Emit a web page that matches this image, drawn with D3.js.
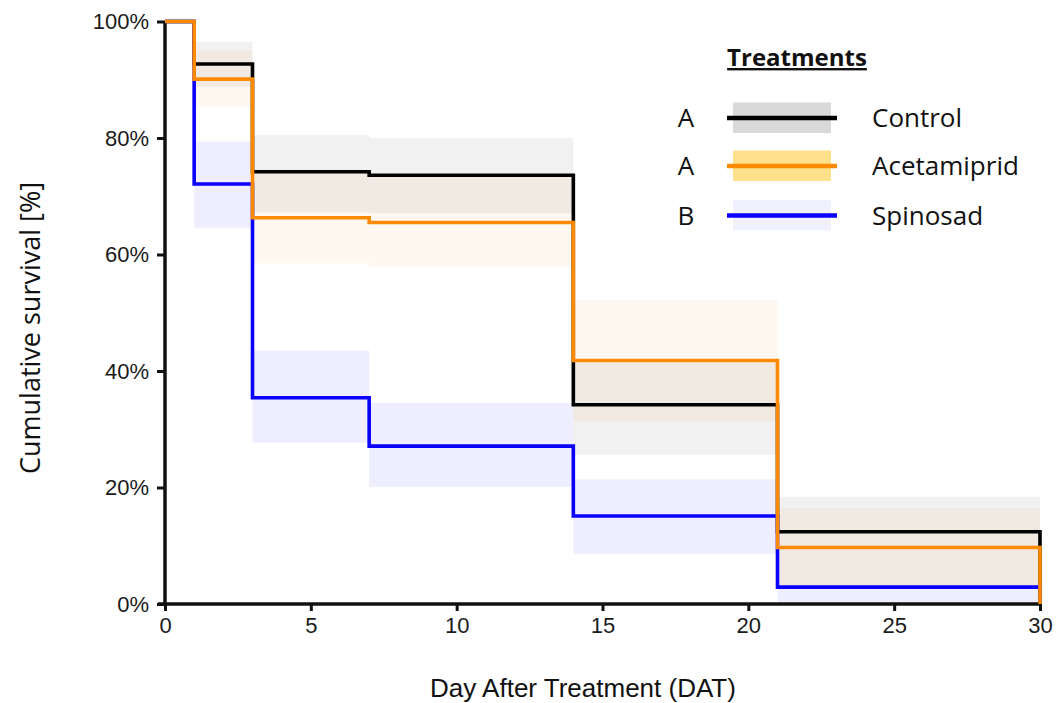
<!DOCTYPE html>
<html>
<head>
<meta charset="utf-8">
<script src="https://cdn.jsdelivr.net/npm/d3@7"></script>
<style>
  html, body { margin: 0; padding: 0; background: #fff; }
  svg { display: block; }
</style>
</head>
<body>
<svg id="chart" width="1057" height="703"></svg>
<script>
// ---------- data ----------
const days = [0, 1, 3, 7, 14, 21, 30];
const controlSurv     = [100, 92.7, 74.2, 73.6, 34.2, 12.4, 0];
const acetamipridSurv = [100, 90.1, 66.3, 65.5, 41.8, 9.7, 0];
const spinosadSurv    = [100, 72.1, 35.4, 27.1, 15.1, 2.9, 0];

// confidence band for intervals [1-3], [3-7], [7-14], [14-21], [21-30]
const bandStarts = [1, 3, 7, 14, 21];
const bandEnds   = [3, 7, 14, 21, 30];
const controlLo     = [88.8, 67.2, 67.1, 25.6, 3.0];
const controlHi     = [96.5, 80.5, 80.0, 41.5, 18.4];
const acetamipridLo = [85.4, 58.5, 57.9, 31.3, 3.0];
const acetamipridHi = [95.1, 74.0, 73.4, 52.2, 16.5];
const spinosadLo    = [64.6, 27.7, 20.1, 8.6, 0];
const spinosadHi    = [79.4, 43.5, 34.5, 21.4, 3.0];

const treatments = ["Control", "Acetamiprid", "Spinosad"];
const groupLetters = ["A", "A", "B"];
const xTicks = [0, 5, 10, 15, 20, 25, 30];
const yTicks = [0, 20, 40, 60, 80, 100];

// ---------- styles ----------
const lineColors = ["#000000", "#ff8a00", "#0a00ff"];
const bandColors = ["#000000", "#ff8000", "#0000ff"];
const bandOpacity = [0.055, 0.055, 0.065];
const swatchColors = ["#d9d9d9", "#ffe18c", "#f0f0ff"];

const series = [
  { name: treatments[0], surv: controlSurv, lo: controlLo, hi: controlHi },
  { name: treatments[1], surv: acetamipridSurv, lo: acetamipridLo, hi: acetamipridHi },
  { name: treatments[2], surv: spinosadSurv, lo: spinosadLo, hi: spinosadHi }
];

const svg = d3.select("#chart");
const x = d3.scaleLinear().domain([0, 30]).range([165, 1040]);
const y = d3.scaleLinear().domain([0, 100]).range([604, 21.5]);

// ---------- bands ----------
series.forEach((s, i) => {
  const rows = bandStarts.map((b, k) => ({ x0: b, x1: bandEnds[k], lo: s.lo[k], hi: s.hi[k] }));
  svg.append("g").selectAll("rect").data(rows).join("rect")
    .attr("x", d => x(d.x0))
    .attr("width", d => x(d.x1) - x(d.x0))
    .attr("y", d => y(d.hi))
    .attr("height", d => y(d.lo) - y(d.hi))
    .attr("fill", bandColors[i])
    .attr("fill-opacity", bandOpacity[i]);
});

// ---------- axes ----------
const xAxis = d3.axisBottom(x).tickValues(xTicks).tickSize(7).tickPadding(6).tickFormat(d3.format("d"));
const yAxis = d3.axisLeft(y).tickValues(yTicks).tickSize(8).tickPadding(8).tickFormat(d => d + "%");

const gx = svg.append("g").attr("transform", "translate(0,604)").call(xAxis);
const gy = svg.append("g").attr("transform", "translate(165,0)").call(yAxis);
[gx, gy].forEach(g => {
  g.select(".domain").attr("stroke", "#111").attr("stroke-width", 3.5);
  g.selectAll(".tick line").attr("stroke", "#111").attr("stroke-width", 3);
  g.selectAll(".tick text")
    .attr("fill", "#1a1a1a")
    .style("font-family", "'Liberation Sans', Arial, sans-serif")
    .style("font-size", "22px");
});
gx.select(".domain").attr("d", "M158,0H1040");
gy.select(".domain").attr("d", "M0,21.5V604");

// ---------- lines (draw black, blue, orange on top) ----------
const line = d3.line().x(d => x(d[0])).y(d => y(d[1])).curve(d3.curveStepAfter);
[0, 2, 1].forEach(i => {
  const pts = days.map((d, k) => [d, series[i].surv[k]]);
  svg.append("path")
    .attr("d", line(pts))
    .attr("fill", "none")
    .attr("stroke", lineColors[i])
    .attr("stroke-width", 3.6)
    .attr("stroke-linejoin", "miter");
});

// ---------- axis titles ----------
svg.append("text")
  .attr("x", 583).attr("y", 697)
  .attr("text-anchor", "middle")
  .style("font-family", "'Liberation Sans', Arial, sans-serif")
  .style("font-size", "26px")
  .attr("fill", "#111")
  .text("Day After Treatment (DAT)");

svg.append("text")
  .attr("transform", "translate(40,328) rotate(-90)")
  .attr("text-anchor", "middle")
  .style("font-family", "'Open Sans', sans-serif")
  .style("font-size", "27px")
  .attr("fill", "#111")
  .text("Cumulative survival [%]");

// ---------- legend ----------
const lg = svg.append("g");
lg.append("text")
  .attr("x", 797).attr("y", 66)
  .attr("text-anchor", "middle")
  .style("font-family", "'Open Sans', sans-serif")
  .style("font-size", "24px")
  .style("font-weight", "bold")
  .style("text-decoration", "underline")
  .attr("fill", "#111")
  .text("Treatments");

const rowY = [118, 166, 215.5];
treatments.forEach((t, i) => {
  const g = lg.append("g").attr("transform", `translate(0,${rowY[i]})`);
  g.append("text")
    .attr("x", 686).attr("y", 9)
    .attr("text-anchor", "middle")
    .style("font-family", "'Open Sans', sans-serif")
    .style("font-size", "26px")
    .attr("fill", "#111")
    .text(groupLetters[i]);
  g.append("rect")
    .attr("x", 733).attr("y", -15.5)
    .attr("width", 98).attr("height", 30.5)
    .attr("fill", swatchColors[i]);
  g.append("line")
    .attr("x1", 727).attr("x2", 837)
    .attr("y1", 0).attr("y2", 0)
    .attr("stroke", lineColors[i])
    .attr("stroke-width", 4.5);
  g.append("text")
    .attr("x", 872).attr("y", 9)
    .style("font-family", "'Open Sans', sans-serif")
    .style("font-size", "26px")
    .attr("fill", "#111")
    .text(t);
});
</script>
</body>
</html>
